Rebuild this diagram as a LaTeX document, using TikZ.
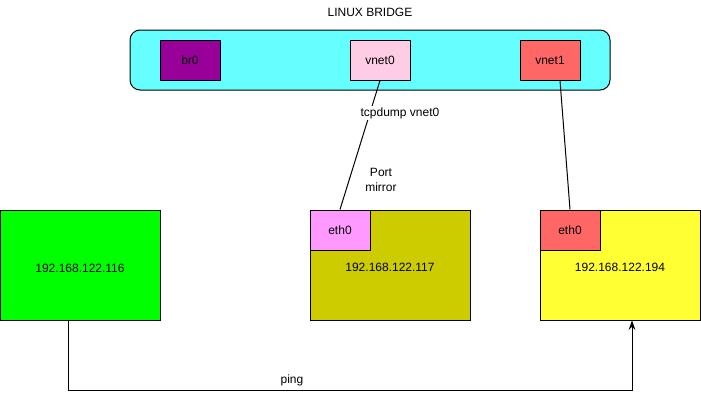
\documentclass[tikz,border=0pt]{standalone}
\usepackage{fontspec}
\setmainfont{Liberation Sans}
\usetikzlibrary{positioning}
\usetikzlibrary{arrows.meta}
\definecolor{bridgecyan}{HTML}{66FFFF}
\definecolor{brpurple}{HTML}{990099}
\definecolor{vnetpink}{HTML}{FFCCE6}
\definecolor{vnetred}{HTML}{FF6666}
\definecolor{vmgreen}{HTML}{00FF00}
\definecolor{vmolive}{HTML}{CCCC00}
\definecolor{vmyellow}{HTML}{FFFF33}
\definecolor{ethpink}{HTML}{FF99FF}
\begin{document}
\begin{tikzpicture}[x=0.75pt, y=-0.75pt, font=\fontsize{9pt}{11pt}\selectfont,
    iface/.style={draw, rectangle, line width=0.75pt, inner sep=0pt, minimum width=45pt, minimum height=30pt},
    vm/.style={draw, rectangle, line width=0.75pt, inner sep=0pt, minimum width=120pt, minimum height=82.5pt},
    link/.style={line width=0.75pt}]
            \useasboundingbox (0,0) rectangle (701,400);
            % Bridge with its ports
            \node (title) at (370,12) {LINUX BRIDGE};
            \node[draw, rectangle, rounded corners=7.5pt, fill=bridgecyan, line width=0.75pt, minimum width=360pt, minimum height=45pt] (bridge) at (370,60) {};
            \node[iface, fill=brpurple] (br0) at (190,60) {br0};
            \node[iface, fill=vnetpink] (vnet0) at (380,60) {vnet0};
            \node[iface, fill=vnetred] (vnet1) at (550,60) {vnet1};
            % Guests
            \node[vm, fill=vmgreen] (vmA) at (80,265) {};
            \node (ipA) at (80,268) {192.168.122.116};
            \node[vm, fill=vmolive] (vmB) at (390,265) {};
            \node[iface, fill=ethpink, anchor=north west] (ethB) at (vmB.north west) {eth0};
            \node (ipB) at (390,267) {192.168.122.117};
            \node[vm, fill=vmyellow] (vmC) at (620,265) {};
            \node[iface, fill=vnetred, anchor=north west] (ethC) at (vmC.north west) {eth0};
            \node (ipC) at (620,267) {192.168.122.194};
            % Links
            \draw[link] (vnet0.south) -- (ethB.north);
            \node[fill=white, inner sep=1pt] (tcp) at (400,113) {tcpdump vnet0};
            \node[align=center] (mirror) at (381,180) {Port\\mirror};
            \draw[link] ([xshift=7.5pt]vnet1.south) -- (ethC.north);
            \draw[link, -{Stealth[length=7pt, width=5pt]}] ([xshift=-9pt]vmA.south) -- ++(0,70) -| ([xshift=9pt]vmC.south);
            \node (ping) at (292,380) {ping};
        \end{tikzpicture}
\end{document}
